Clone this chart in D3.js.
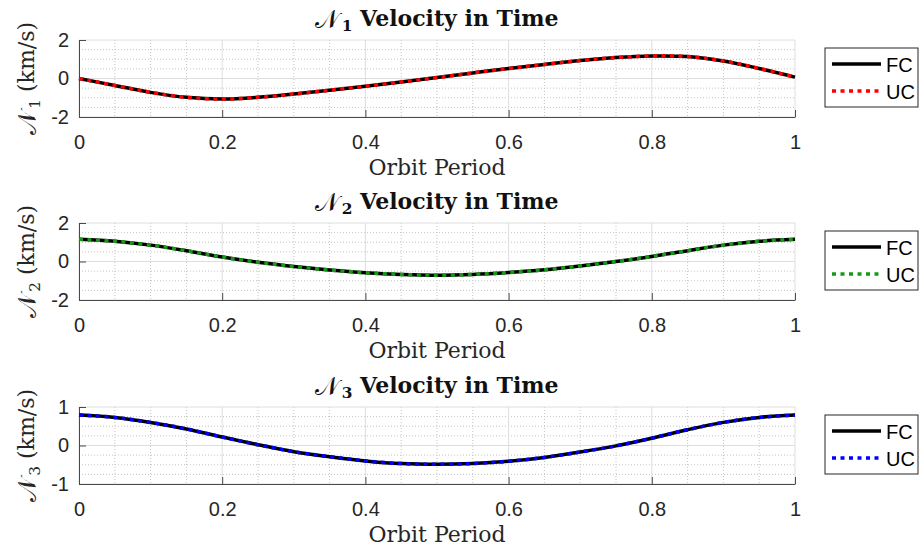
<!DOCTYPE html>
<html>
<head>
<meta charset="utf-8">
<script src="https://cdn.jsdelivr.net/npm/d3@7"></script>
<style>
  body { margin: 0; background: #fff; }
  .tick text { font-family: "Liberation Sans", Arial, sans-serif; font-size: 20px; fill: #262626; }
</style>
</head>
<body>
<svg id="chart" width="924" height="552"></svg>
<script>
// time, as a fraction of the orbit period
const period = [0, 0.05, 0.1, 0.15, 0.2, 0.25, 0.3, 0.35, 0.4, 0.45, 0.5,
                0.55, 0.6, 0.65, 0.7, 0.75, 0.8, 0.85, 0.9, 0.95, 1];

// velocity components (km/s), FC and UC lie on top of each other
const n1Velocity = [0.0, -0.36, -0.72, -0.98, -1.07, -0.98, -0.81, -0.61, -0.40, -0.18, 0.05,
                    0.29, 0.52, 0.73, 0.93, 1.09, 1.17, 1.14, 0.91, 0.52, 0.07];
const n2Velocity = [1.15, 1.05, 0.85, 0.56, 0.23, -0.04, -0.26, -0.44, -0.58, -0.67, -0.71,
                    -0.67, -0.57, -0.43, -0.23, 0.0, 0.26, 0.56, 0.85, 1.05, 1.15];
const n3Velocity = [0.79, 0.73, 0.60, 0.43, 0.22, 0.02, -0.16, -0.29, -0.40, -0.47, -0.49,
                    -0.47, -0.41, -0.31, -0.17, -0.01, 0.19, 0.41, 0.60, 0.73, 0.79];

const xTicks = [0, 0.2, 0.4, 0.6, 0.8, 1];
const n1Ticks = [-2, 0, 2];
const n2Ticks = [-2, 0, 2];
const n3Ticks = [-1, 0, 1];
const seriesNames = ["FC", "UC"];
const ucColors = ["#ff0000", "#169a16", "#0000ff"];

const panels = [
  { sub: "1", values: n1Velocity, ticks: n1Ticks, color: ucColors[0] },
  { sub: "2", values: n2Velocity, ticks: n2Ticks, color: ucColors[1] },
  { sub: "3", values: n3Velocity, ticks: n3Ticks, color: ucColors[2] },
];

const svg = d3.select("#chart");
const left = 79, right = 795, plotH = 77;
const tops = [40, 223, 407];
const serif = "'DejaVu Serif', 'Liberation Serif', serif";

const x = d3.scaleLinear().domain([0, 1]).range([left, right]);

// N with a subscript, written into a text element
function addSymbol(t, sub) {
  t.append("tspan").attr("font-weight", "normal").attr("font-size", "1.15em").text("\u{1D4A9}");
  t.append("tspan").attr("font-size", "0.7em").attr("dx", "0.15em").attr("dy", "0.25em").text(sub);
  return t;
}

panels.forEach((p, i) => {
  const top = tops[i], bottom = top + plotH;
  const yMax = p.ticks[p.ticks.length - 1];
  const y = d3.scaleLinear().domain([-yMax, yMax]).range([bottom, top]);
  const g = svg.append("g");

  // minor grid (dotted)
  const xMinor = d3.range(0, 1.0001, 0.05).filter(v => Math.abs(v * 5 - Math.round(v * 5)) > 1e-6);
  const yMinor = d3.range(-yMax, yMax + 1e-6, yMax / 4).filter(v => !p.ticks.some(t => Math.abs(t - v) < 1e-6));
  g.selectAll(".xminor").data(xMinor).enter().append("line")
    .attr("x1", d => x(d)).attr("x2", d => x(d)).attr("y1", top).attr("y2", bottom)
    .attr("stroke", "#c4c4c4").attr("stroke-dasharray", "1,2");
  g.selectAll(".yminor").data(yMinor).enter().append("line")
    .attr("x1", left).attr("x2", right).attr("y1", d => y(d)).attr("y2", d => y(d))
    .attr("stroke", "#c4c4c4").attr("stroke-dasharray", "1,2");

  // major grid
  g.selectAll(".xmajor").data(xTicks).enter().append("line")
    .attr("x1", d => x(d)).attr("x2", d => x(d)).attr("y1", top).attr("y2", bottom)
    .attr("stroke", "#dedede");
  g.selectAll(".ymajor").data(p.ticks).enter().append("line")
    .attr("x1", left).attr("x2", right).attr("y1", d => y(d)).attr("y2", d => y(d))
    .attr("stroke", "#dedede");

  // axes with inward ticks
  const xAxis = g.append("g").attr("transform", `translate(0,${bottom})`)
    .call(d3.axisBottom(x).tickValues(xTicks).tickFormat(d3.format("")).tickSizeInner(-7).tickSizeOuter(0).tickPadding(18));
  const yAxis = g.append("g").attr("transform", `translate(${left},0)`)
    .call(d3.axisLeft(y).tickValues(p.ticks).tickFormat(d3.format("")).tickSizeInner(-7).tickSizeOuter(0).tickPadding(10));
  [xAxis, yAxis].forEach(a => {
    a.select(".domain").attr("stroke", "#4a4a4a");
    a.selectAll(".tick line").attr("stroke", "#4a4a4a");
  });
  yAxis.selectAll(".tick text").text(d => d < 0 ? "-" + Math.abs(d) : d);

  // curves: FC solid black, UC dotted on top
  const line = d3.line().x((d, k) => x(period[k])).y(d => y(d)).curve(d3.curveCatmullRom);
  g.append("path").attr("d", line(p.values))
    .attr("fill", "none").attr("stroke", "#000").attr("stroke-width", 3.5);
  g.append("path").attr("d", line(p.values))
    .attr("fill", "none").attr("stroke", p.color).attr("stroke-width", 3.5)
    .attr("stroke-dasharray", "4,4.5");

  // title
  const title = g.append("text").attr("x", (left + right) / 2).attr("y", top - 12.5)
    .attr("text-anchor", "middle").attr("font-family", serif).attr("font-size", 22)
    .attr("font-weight", "bold").attr("fill", "#111");
  addSymbol(title, p.sub);
  title.append("tspan").attr("dy", "-0.25em").text(" Velocity in Time");

  // axis labels
  g.append("text").attr("x", (left + right) / 2).attr("y", bottom + 58)
    .attr("text-anchor", "middle").attr("font-family", serif).attr("font-size", 22).attr("fill", "#262626")
    .text("Orbit Period");
  const yl = g.append("text").attr("transform", `translate(36,${(top + bottom) / 2}) rotate(-90)`)
    .attr("text-anchor", "middle").attr("font-family", serif).attr("font-size", 22).attr("fill", "#262626");
  addSymbol(yl, p.sub);
  yl.append("tspan").attr("dy", "-0.25em").text(" (km/s)");

  // legend
  const lg = g.append("g").attr("transform", `translate(825,${top + 8})`);
  lg.append("rect").attr("width", 93).attr("height", 59).attr("fill", "#fff").attr("stroke", "#262626");
  seriesNames.forEach((name, k) => {
    const ly = 16 + k * 27;
    lg.append("line").attr("x1", 7).attr("x2", 56).attr("y1", ly).attr("y2", ly)
      .attr("stroke", k === 0 ? "#000" : p.color).attr("stroke-width", 3.5)
      .attr("stroke-dasharray", k === 0 ? null : "4,4.5");
    lg.append("text").attr("x", 61).attr("y", ly + 7.5)
      .attr("font-family", "'Liberation Sans', Arial, sans-serif").attr("font-size", 20).attr("fill", "#000")
      .text(name);
  });
});
</script>
</body>
</html>
